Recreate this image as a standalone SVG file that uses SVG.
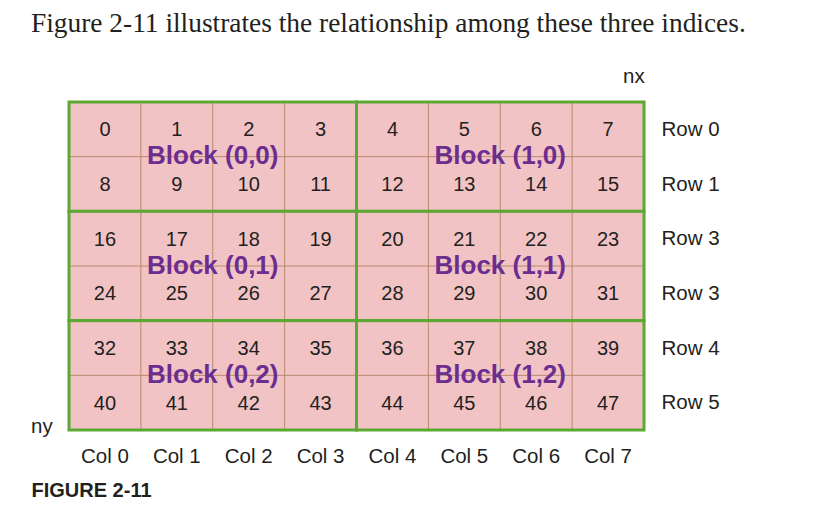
<svg xmlns="http://www.w3.org/2000/svg" width="813" height="507" viewBox="0 0 813 507">
<style>
.bg{fill:#ffffff}
.blk{fill:#f2c3c5;stroke:none}
.thin{stroke:#b98a6c;stroke-width:1;fill:none}
.edge{fill:none;stroke:#5ba833;stroke-width:3}
.num{font-family:"Liberation Sans",Arial,sans-serif;font-size:20px;fill:#231f20;text-anchor:middle}
.lbl{font-family:"Liberation Sans",Arial,sans-serif;font-size:20.5px;fill:#231f20}
.col{text-anchor:middle}
.bl{font-family:"Liberation Sans",Arial,sans-serif;font-size:26px;font-weight:bold;fill:#6b2e8f;text-anchor:middle}
.title{font-family:"Liberation Serif","Times New Roman",serif;font-size:27.4px;fill:#231f20}
.fig{font-family:"Liberation Sans",Arial,sans-serif;font-size:20px;font-weight:bold;fill:#231f20}
</style>
<rect class="bg" x="0" y="0" width="813" height="507"/>
<text class="title" x="31" y="31.7">Figure 2-11 illustrates the relationship among these three indices.</text>
<text class="lbl" x="623" y="83">nx</text>
<text class="lbl" x="31" y="433">ny</text>

<g id="block-0-0">
<rect class="blk" x="69" y="102" width="287.5" height="109.33"/>
<path class="thin" d="M140.875 102V211.33M212.75 102V211.33M284.625 102V211.33M69 156.67H356.5"/>
<rect class="edge" x="69" y="102" width="287.5" height="109.33"/>
<text class="num" x="104.94" y="136.3">0</text><text class="num" x="176.81" y="136.3">1</text><text class="num" x="248.69" y="136.3">2</text><text class="num" x="320.56" y="136.3">3</text>
<text class="num" x="104.94" y="191">8</text><text class="num" x="176.81" y="191">9</text><text class="num" x="248.69" y="191">10</text><text class="num" x="320.56" y="191">11</text>
<text class="bl" x="212.75" y="164">Block (0,0)</text>
</g>

<g id="block-1-0">
<rect class="blk" x="356.5" y="102" width="287.5" height="109.33"/>
<path class="thin" d="M428.375 102V211.33M500.25 102V211.33M572.125 102V211.33M356.5 156.67H644"/>
<rect class="edge" x="356.5" y="102" width="287.5" height="109.33"/>
<text class="num" x="392.44" y="136.3">4</text><text class="num" x="464.31" y="136.3">5</text><text class="num" x="536.19" y="136.3">6</text><text class="num" x="608.06" y="136.3">7</text>
<text class="num" x="392.44" y="191">12</text><text class="num" x="464.31" y="191">13</text><text class="num" x="536.19" y="191">14</text><text class="num" x="608.06" y="191">15</text>
<text class="bl" x="500.25" y="164">Block (1,0)</text>
</g>

<g id="block-0-1">
<rect class="blk" x="69" y="211.33" width="287.5" height="109.33"/>
<path class="thin" d="M140.875 211.33V320.67M212.75 211.33V320.67M284.625 211.33V320.67M69 266H356.5"/>
<rect class="edge" x="69" y="211.33" width="287.5" height="109.33"/>
<text class="num" x="104.94" y="245.7">16</text><text class="num" x="176.81" y="245.7">17</text><text class="num" x="248.69" y="245.7">18</text><text class="num" x="320.56" y="245.7">19</text>
<text class="num" x="104.94" y="300.3">24</text><text class="num" x="176.81" y="300.3">25</text><text class="num" x="248.69" y="300.3">26</text><text class="num" x="320.56" y="300.3">27</text>
<text class="bl" x="212.75" y="273.5">Block (0,1)</text>
</g>

<g id="block-1-1">
<rect class="blk" x="356.5" y="211.33" width="287.5" height="109.33"/>
<path class="thin" d="M428.375 211.33V320.67M500.25 211.33V320.67M572.125 211.33V320.67M356.5 266H644"/>
<rect class="edge" x="356.5" y="211.33" width="287.5" height="109.33"/>
<text class="num" x="392.44" y="245.7">20</text><text class="num" x="464.31" y="245.7">21</text><text class="num" x="536.19" y="245.7">22</text><text class="num" x="608.06" y="245.7">23</text>
<text class="num" x="392.44" y="300.3">28</text><text class="num" x="464.31" y="300.3">29</text><text class="num" x="536.19" y="300.3">30</text><text class="num" x="608.06" y="300.3">31</text>
<text class="bl" x="500.25" y="273.5">Block (1,1)</text>
</g>

<g id="block-0-2">
<rect class="blk" x="69" y="320.67" width="287.5" height="109.33"/>
<path class="thin" d="M140.875 320.67V430M212.75 320.67V430M284.625 320.67V430M69 375.33H356.5"/>
<rect class="edge" x="69" y="320.67" width="287.5" height="109.33"/>
<text class="num" x="104.94" y="355">32</text><text class="num" x="176.81" y="355">33</text><text class="num" x="248.69" y="355">34</text><text class="num" x="320.56" y="355">35</text>
<text class="num" x="104.94" y="409.7">40</text><text class="num" x="176.81" y="409.7">41</text><text class="num" x="248.69" y="409.7">42</text><text class="num" x="320.56" y="409.7">43</text>
<text class="bl" x="212.75" y="383">Block (0,2)</text>
</g>

<g id="block-1-2">
<rect class="blk" x="356.5" y="320.67" width="287.5" height="109.33"/>
<path class="thin" d="M428.375 320.67V430M500.25 320.67V430M572.125 320.67V430M356.5 375.33H644"/>
<rect class="edge" x="356.5" y="320.67" width="287.5" height="109.33"/>
<text class="num" x="392.44" y="355">36</text><text class="num" x="464.31" y="355">37</text><text class="num" x="536.19" y="355">38</text><text class="num" x="608.06" y="355">39</text>
<text class="num" x="392.44" y="409.7">44</text><text class="num" x="464.31" y="409.7">45</text><text class="num" x="536.19" y="409.7">46</text><text class="num" x="608.06" y="409.7">47</text>
<text class="bl" x="500.25" y="383">Block (1,2)</text>
</g>

<g id="row-labels">
<text class="lbl" x="661.5" y="136">Row 0</text>
<text class="lbl" x="661.5" y="190.7">Row 1</text>
<text class="lbl" x="661.5" y="245.4">Row 3</text>
<text class="lbl" x="661.5" y="300">Row 3</text>
<text class="lbl" x="661.5" y="354.7">Row 4</text>
<text class="lbl" x="661.5" y="409.4">Row 5</text>
</g>

<g id="col-labels">
<text class="lbl col" x="104.94" y="463.3">Col 0</text>
<text class="lbl col" x="176.81" y="463.3">Col 1</text>
<text class="lbl col" x="248.69" y="463.3">Col 2</text>
<text class="lbl col" x="320.56" y="463.3">Col 3</text>
<text class="lbl col" x="392.44" y="463.3">Col 4</text>
<text class="lbl col" x="464.31" y="463.3">Col 5</text>
<text class="lbl col" x="536.19" y="463.3">Col 6</text>
<text class="lbl col" x="608.06" y="463.3">Col 7</text>
</g>

<text class="fig" x="31.5" y="497.3">FIGURE 2-11</text>
</svg>
